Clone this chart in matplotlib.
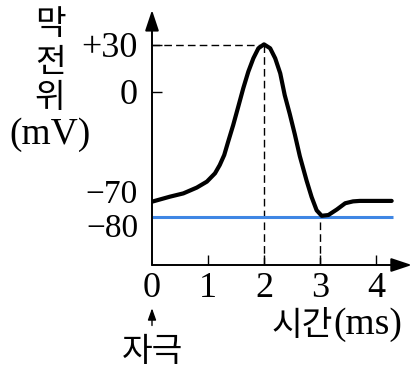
import matplotlib
matplotlib.use("Agg")
import matplotlib.pyplot as plt

# membrane potential trace (time in ms, potential in mV)
time_ms = [0.0, 0.32, 0.56, 0.80, 0.98, 1.125, 1.21, 1.29, 1.36, 1.45, 1.54, 1.63, 1.72,
           1.81, 1.90, 2.0, 2.11, 2.20, 2.29, 2.37, 2.46, 2.55, 2.64, 2.76, 2.85, 2.94,
           3.03, 3.15, 3.30, 3.45, 3.59, 3.71, 4.28]
potential_mv = [-70, -66.8, -64.7, -61, -57.2, -51.9, -46.6, -40.2, -31.7, -21.1, -9.4, 2.4, 13,
                21.5, 27.9, 30.4, 27.9, 21.5, 11.9, -2, -14, -27, -41, -56.5, -67, -75.5,
                -79, -78.5, -75, -71, -69.8, -69.5, -69.5]

hyperpol_mv = -80
hyperpol_span = [0, 4.3]
peak_time, peak_mv = 2, 30
min_time, min_mv = 3, -80

x_ticks = [0, 1, 2, 3, 4]
y_ticks = [30, 0]
y_tick_labels = ["+30", "0"]
y_extra = [-70, -80]
y_extra_labels = ["\u221270", "\u221280"]
y_title_kr = ["막", "전", "위"]
y_title_unit = "(mV)"
x_title_kr = "시간"
x_title_unit = "(ms)"
stim_label = "자극"

SERIF = ["Liberation Serif", "Noto Sans CJK KR"]
KR = ["Noto Sans CJK KR", "Liberation Serif"]


def main():
    fig = plt.figure(figsize=(4.12, 3.70), dpi=100)
    ymin, ymax = -110.4, 53.6
    ax = fig.add_axes([152 / 412, 105 / 370, 252 / 412, 257 / 370])
    ax.set_xlim(0, 4.5)
    ax.set_ylim(ymin, ymax)
    for s in ax.spines.values():
        s.set_visible(False)

    # axes with arrow heads
    arrow = dict(arrowstyle="-|>,head_length=0.9,head_width=0.3", color="black",
                 lw=1.4, mutation_scale=14, shrinkA=0, shrinkB=0)
    ax.annotate("", xy=(4.64, ymin), xytext=(0, ymin), arrowprops=arrow, annotation_clip=False)
    ax.annotate("", xy=(0, 52.3), xytext=(0, ymin), arrowprops=arrow, annotation_clip=False)

    # dashed guides
    dash = dict(color="black", lw=1.0, linestyle=(0, (5.5, 3)))
    ax.plot([0, peak_time], [peak_mv, peak_mv], **dash)
    ax.plot([peak_time, peak_time], [ymin, peak_mv], **dash)
    ax.plot([min_time, min_time], [ymin, min_mv], **dash)

    ax.plot(hyperpol_span, [hyperpol_mv, hyperpol_mv], color="#3f86e4", lw=2.2,
            solid_capstyle="butt")
    ax.plot(time_ms, potential_mv, color="black", lw=3.0, solid_joinstyle="round",
            solid_capstyle="round")

    ax.set_xticks(x_ticks)
    ax.set_xticklabels([str(t) for t in x_ticks], fontfamily=SERIF, fontsize=26)
    ax.set_yticks(y_ticks)
    ax.set_yticklabels(y_tick_labels, fontfamily=SERIF, fontsize=26)
    ax.tick_params(axis="x", direction="in", length=7, width=1.0, pad=5)
    ax.tick_params(axis="y", direction="in", length=7, width=1.0, pad=10)
    # first x tick sits on the y axis, hide its mark
    ax.xaxis.get_major_ticks()[0].tick1line.set_visible(False)

    # -70 and -80 are nudged apart in the reference
    for val, lab, dy in zip(y_extra, y_extra_labels, [5, -8]):
        ax.annotate(lab, xy=(0, val), xytext=(-10, dy), textcoords="offset points",
                    ha="right", va="center", fontfamily=SERIF, fontsize=24,
                    annotation_clip=False)

    # stacked y title
    for ch, yv in zip(y_title_kr, [42.8, 19.1, -3.2]):
        ax.text(-1.82, yv, ch, ha="center", va="center", fontfamily=KR, fontsize=24)
    ax.text(-1.82, -27.4, y_title_unit, ha="center", va="center", fontfamily=SERIF,
            fontsize=27)

    # stimulus marker
    ax.annotate("", xy=(0, -138), xytext=(0, -149),
                arrowprops=dict(arrowstyle="-|>,head_length=0.7,head_width=0.25",
                                color="black", lw=1.0, mutation_scale=10,
                                shrinkA=0, shrinkB=0),
                annotation_clip=False)
    ax.text(0, -165.9, stim_label, ha="center", va="center", fontfamily=KR, fontsize=24)

    ax.text(3.23, -148.7, x_title_kr, ha="right", va="center", fontfamily=KR, fontsize=24)
    ax.text(3.23, -148.7, x_title_unit, ha="left", va="center", fontfamily=SERIF,
            fontsize=27)

    fig.savefig("out.png", dpi=100)
    plt.close(fig)


if __name__ == "__main__":
    main()
